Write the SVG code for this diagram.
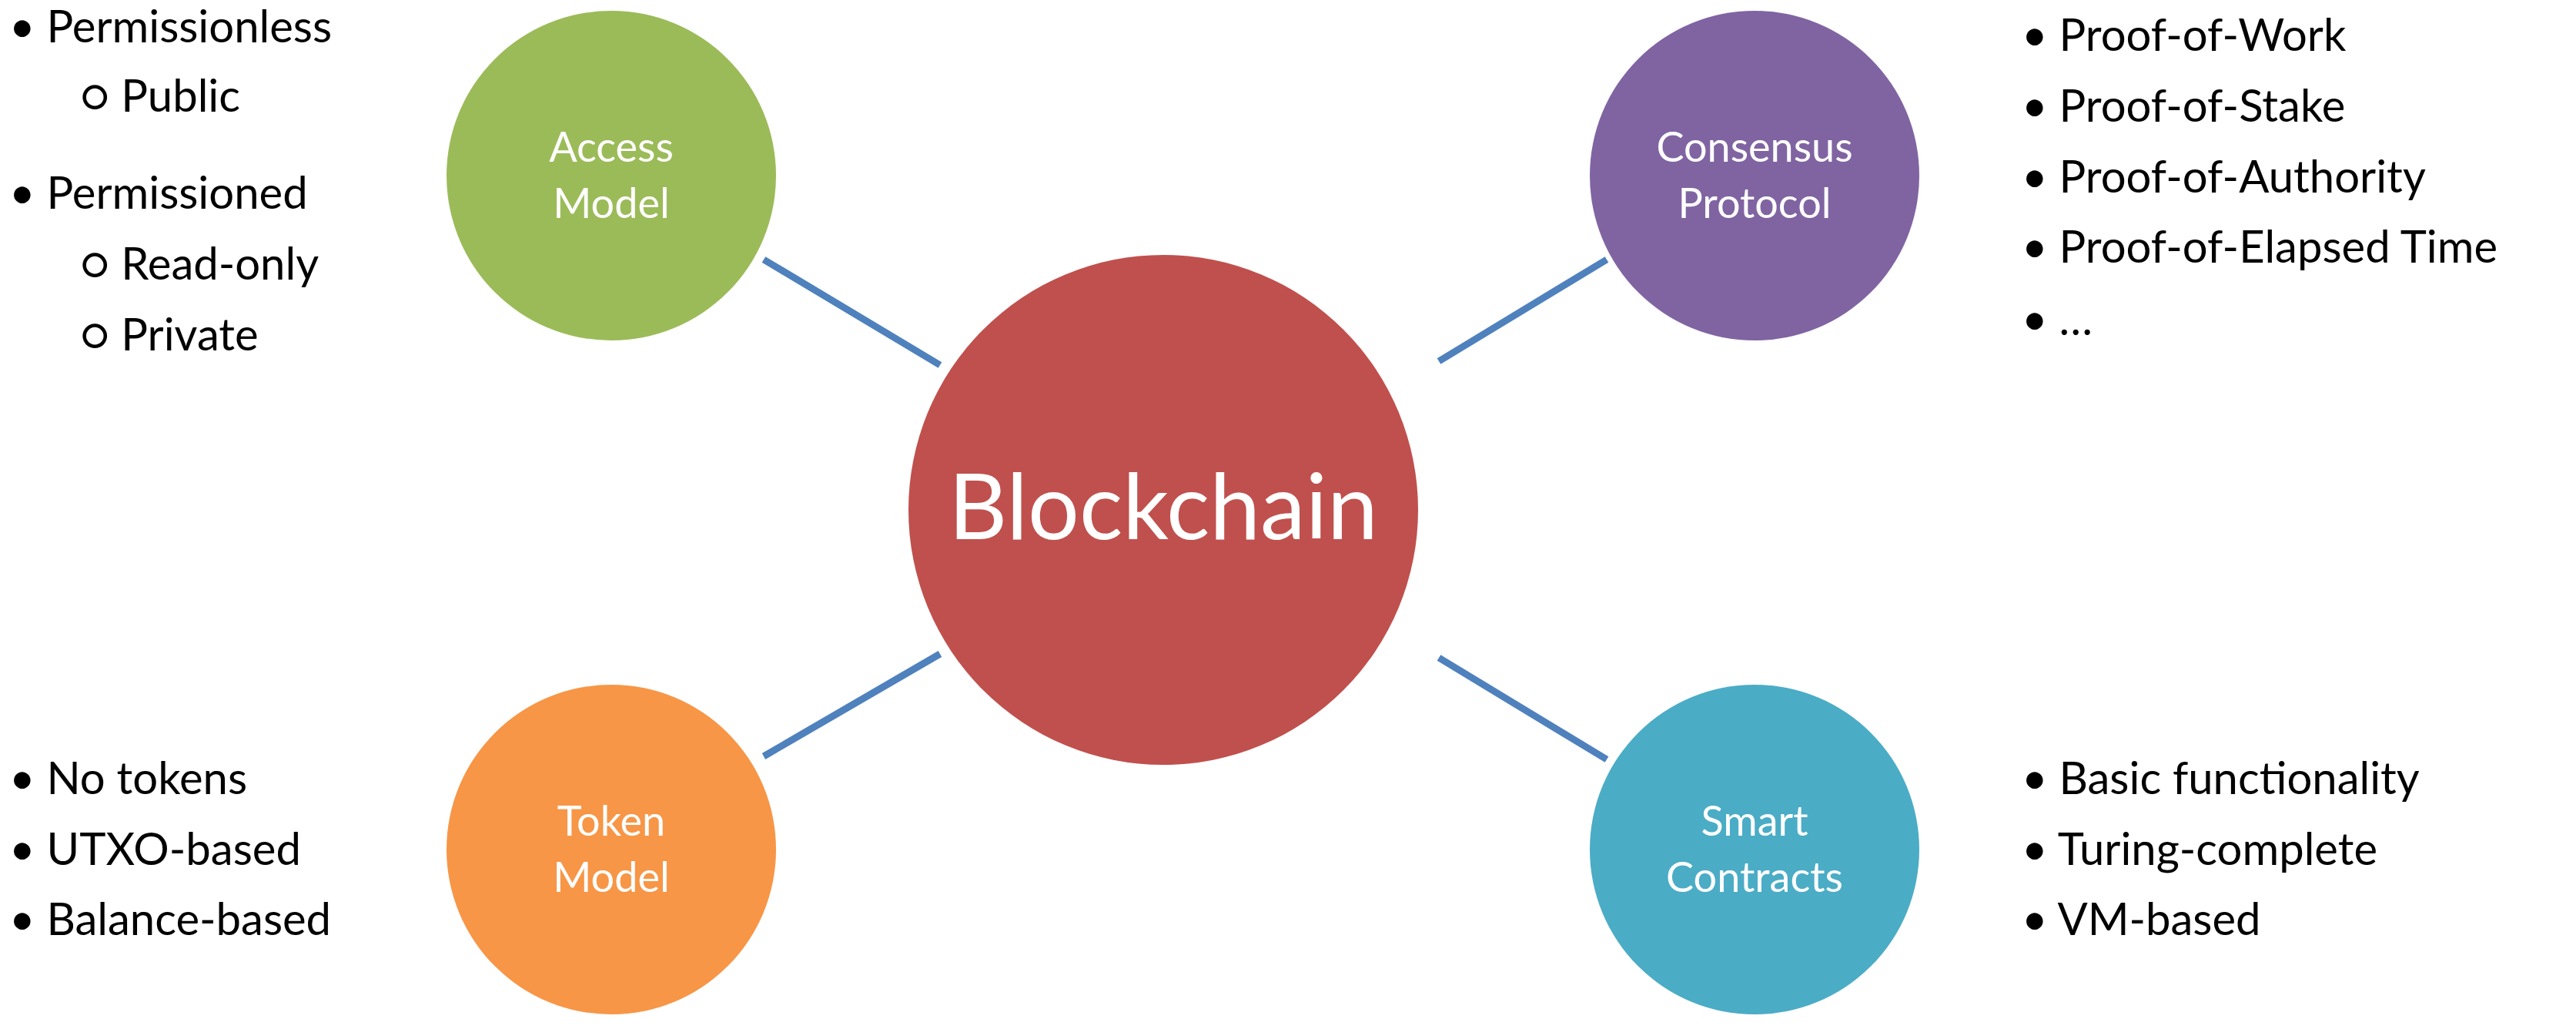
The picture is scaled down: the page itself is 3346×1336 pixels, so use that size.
<svg xmlns="http://www.w3.org/2000/svg" width="3346" height="1336" viewBox="0 0 3346 1336">
<style>
.t{font-family:Lato,"Open Sans","Liberation Sans",sans-serif;fill:#000;font-size:58px}
.c{font-family:Lato,"Open Sans","Liberation Sans",sans-serif;fill:#fff;font-size:54px;text-anchor:middle}
.l{stroke:#4F81BD;stroke-width:9}
</style>
<rect width="3346" height="1336" fill="#fff"/>
<g id="connectors">
<line class="l" x1="992" y1="337" x2="1221" y2="474"/>
<line class="l" x1="2087" y1="337" x2="1869" y2="469"/>
<line class="l" x1="992" y1="982" x2="1221" y2="849"/>
<line class="l" x1="1869" y1="854" x2="2087" y2="986"/>
</g>
<g id="blockchain"><circle cx="1511" cy="662" r="331" fill="#C0504D"/><text class="c" x="1511" y="700" style="font-size:118px">Blockchain</text></g>
<g id="access"><circle cx="794" cy="228" r="214" fill="#9BBB59"/><text class="c" x="794" y="210">Access</text><text class="c" x="794" y="283">Model</text></g>
<g id="consensus"><circle cx="2279" cy="228" r="214" fill="#8064A2"/><text class="c" x="2279" y="210">Consensus</text><text class="c" x="2279" y="283">Protocol</text></g>
<g id="token"><circle cx="794" cy="1103" r="214" fill="#F79646"/><text class="c" x="794" y="1085">Token</text><text class="c" x="794" y="1158">Model</text></g>
<g id="smart"><circle cx="2279" cy="1103" r="214" fill="#4BACC6"/><text class="c" x="2279" y="1085">Smart</text><text class="c" x="2279" y="1158">Contracts</text></g>
<g id="access-list">
<text class="t" x="12" y="55">• Permissionless</text>
<text class="t" x="104" y="145">○ Public</text>
<text class="t" x="12" y="271">• Permissioned</text>
<text class="t" x="104" y="363">○ Read-only</text>
<text class="t" x="104" y="455">○ Private</text>
</g>
<g id="consensus-list">
<text class="t" x="2626" y="66">• Proof-of-Work</text>
<text class="t" x="2626" y="158">• Proof-of-Stake</text>
<text class="t" x="2626" y="250">• Proof-of-Authority</text>
<text class="t" x="2626" y="341">• Proof-of-Elapsed Time</text>
<text class="t" x="2626" y="435">• …</text>
</g>
<g id="token-list">
<text class="t" x="12" y="1031">• No tokens</text>
<text class="t" x="12" y="1123">• UTXO-based</text>
<text class="t" x="12" y="1214">• Balance-based</text>
</g>
<g id="smart-list">
<text class="t" x="2626" y="1031">• Basic functionality</text>
<text class="t" x="2626" y="1123">• Turing-complete</text>
<text class="t" x="2626" y="1214">• VM-based</text>
</g>
</svg>
